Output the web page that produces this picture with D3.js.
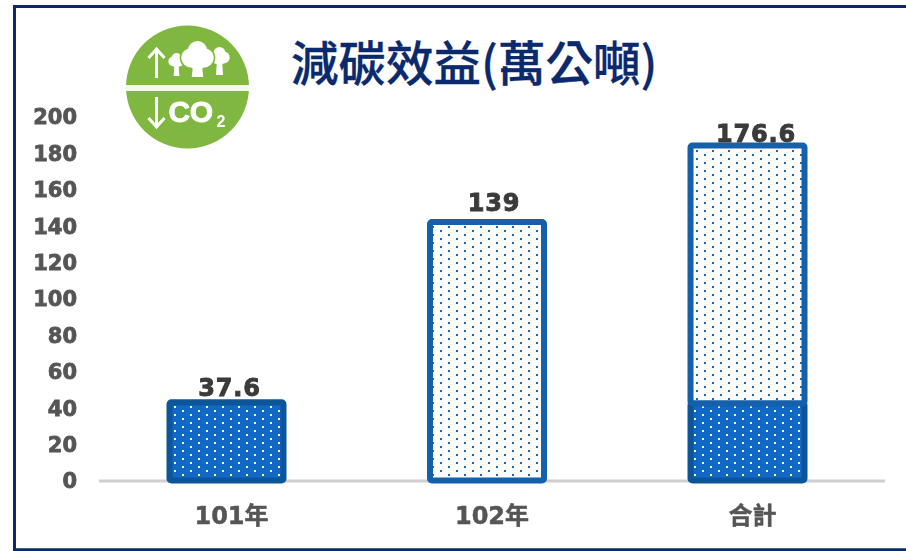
<!DOCTYPE html>
<html lang="zh-Hant">
<head>
<meta charset="utf-8">
<title>減碳效益</title>
<style>
html, body { margin: 0; padding: 0; background: #fff; }
svg { display: block; }
.label { font-family: "DejaVu Sans", "Noto Sans CJK TC", sans-serif; font-weight: bold; }
</style>
</head>
<body>
<script src="https://d3js.org/d3.v7.min.js"></script>
<script>

var titleText = "減碳效益(萬公噸)";
var categories = ["101年", "102年", "合計"];
var tickValues = [0, 20, 40, 60, 80, 100, 120, 140, 160, 180, 200];
// drawn heights are read against the axis, they do not agree with the printed labels
var lowerValues = [43, 0, 42.5];
var upperValues = [0, 142, 141.5];
var valueLabels = ["37.6", "139", "176.6"];

var width = 906, height = 551;

var x = d3.scalePoint().domain(categories).range([226.5, 747.5]);
var y = d3.scaleLinear().domain([0, 200]).range([480.5, 116.5]);
var barWidth = 114;

// the labels sit unevenly over the bars in the original
var labelDx = [3, 7, 8.5];
var labelDy = [6.5, 11, 4];

var svg = d3.select("body").append("svg")
    .attr("width", width)
    .attr("height", height);

var defs = svg.append("defs");

function dots(id, bg, dot, ox, oy) {
  var p = defs.append("pattern")
      .attr("id", id)
      .attr("patternUnits", "userSpaceOnUse")
      .attr("x", ox).attr("y", oy)
      .attr("width", 16).attr("height", 8);
  p.append("rect").attr("width", 16).attr("height", 8).attr("fill", bg);
  p.append("rect").attr("width", 2).attr("height", 2).attr("fill", dot);
  p.append("rect").attr("x", 8).attr("y", 4).attr("width", 2).attr("height", 2).attr("fill", dot);
}
dots("dark0", "#1269c5", "#fff", 174, 406);
dots("dark2", "#1269c5", "#fff", 694, 410);
dots("light1", "#fff", "#0f6cc4", 448, 226);
dots("light2", "#fff", "#0f6cc4", 696, 150);

defs.append("filter").attr("id", "soft")
  .append("feGaussianBlur").attr("stdDeviation", 0.6);
defs.append("filter").attr("id", "logoSoft")
  .append("feGaussianBlur").attr("stdDeviation", 0.5);

// frame
svg.append("path")
    .attr("d", "M906,6.5H14.5V549.8H906")
    .attr("fill", "none")
    .attr("stroke", "#0a2a6a")
    .attr("stroke-width", 3);

// baseline
svg.append("line")
    .attr("x1", 99).attr("x2", 885)
    .attr("y1", y(0) + 0.5).attr("y2", y(0) + 0.5)
    .attr("stroke", "#cfcfcf")
    .attr("stroke-width", 3);

// y tick labels
var yAxis = d3.axisLeft(y).tickValues(tickValues).tickSize(0).tickPadding(0);
var yg = svg.append("g")
    .attr("transform", "translate(77,0.7)")
    .attr("filter", "url(#soft)")
    .call(yAxis);
yg.select(".domain").remove();
yg.selectAll("text")
    .attr("class", "label")
    .attr("font-size", 21)
    .attr("fill", "#555")
    .attr("stroke", "#555")
    .attr("stroke-width", 0.8);

// x category labels
var xAxis = d3.axisBottom(x).tickSize(0).tickPadding(0);
var xg = svg.append("g")
    .attr("transform", "translate(4.5,507)")
    .attr("filter", "url(#soft)")
    .call(xAxis);
xg.select(".domain").remove();
xg.selectAll("text")
    .attr("class", "label")
    .attr("font-size", 24)
    .attr("fill", "#555")
    .attr("stroke", "#555")
    .attr("stroke-width", 0.5);

// lower (dark) bars
svg.append("g").selectAll("rect")
    .data(categories.filter(function(d, i) { return lowerValues[i] > 0; }))
  .enter().append("rect")
    .attr("x", function(d) { return x(d) - barWidth / 2; })
    .attr("y", function(d) { return y(lowerValues[categories.indexOf(d)]); })
    .attr("width", barWidth)
    .attr("height", function(d) { return y(0) - y(lowerValues[categories.indexOf(d)]); })
    .attr("rx", 2)
    .attr("fill", function(d) { return "url(#dark" + categories.indexOf(d) + ")"; })
    .attr("stroke", "#0c5698")
    .attr("stroke-width", 6);

// upper (light) bars
svg.append("g").selectAll("rect")
    .data(categories.filter(function(d, i) { return upperValues[i] > 0; }))
  .enter().append("rect")
    .attr("x", function(d) { return x(d) - barWidth / 2; })
    .attr("y", function(d) {
      var i = categories.indexOf(d);
      return y(lowerValues[i] + upperValues[i]);
    })
    .attr("width", barWidth)
    .attr("height", function(d) { return y(0) - y(upperValues[categories.indexOf(d)]); })
    .attr("rx", 2)
    .attr("fill", function(d) { return "url(#light" + categories.indexOf(d) + ")"; })
    .attr("stroke", "#1460aa")
    .attr("stroke-width", 6);

// value labels
svg.append("g")
    .attr("filter", "url(#soft)")
  .selectAll("text")
    .data(valueLabels)
  .enter().append("text")
    .attr("class", "label")
    .attr("x", function(d, i) { return x(categories[i]) + labelDx[i]; })
    .attr("y", function(d, i) { return y(lowerValues[i] + upperValues[i]) - labelDy[i]; })
    .attr("text-anchor", "middle")
    .attr("font-size", 24)
    .attr("letter-spacing", 0.8)
    .attr("fill", "#3a3a3a")
    .attr("stroke", "#3a3a3a")
    .attr("stroke-width", 0.9)
    .text(function(d) { return d; });

// title
svg.append("text")
    .attr("x", 291)
    .attr("y", 81)
    .attr("font-family", '"Noto Sans CJK TC", sans-serif')
    .attr("font-weight", 500)
    .attr("font-size", 47.5)
    .attr("fill", "#0b2a6e")
    .attr("stroke", "#0b2a6e")
    .attr("stroke-width", 0.3)
    .text(titleText);

// logo
var logo = svg.append("g")
    .attr("transform", "translate(187.5,87)")
    .attr("filter", "url(#logoSoft)");
logo.append("circle").attr("r", 61.5).attr("fill", "#80b73f");
logo.append("rect")
    .attr("x", -62).attr("y", -2)
    .attr("width", 124).attr("height", 6)
    .attr("fill", "#f4f9ea");

logo.append("path")
    .attr("d", "M-31,-9V-38M-39,-29L-31,-38L-23,-29")
    .attr("fill", "none")
    .attr("stroke", "#fff")
    .attr("stroke-width", 3);
logo.append("path")
    .attr("d", "M-31,10V40M-39,31L-31,40L-23,31")
    .attr("fill", "none")
    .attr("stroke", "#fff")
    .attr("stroke-width", 3);

// trees: crown circles plus a trunk, green halo first so they read as separate
function tree(cx, top, bottom, w) {
  var r = w / 2;
  var crown = [
    [cx, top + r * 0.6, r * 0.6],
    [cx - r * 0.42, top + r * 1.05, r * 0.6],
    [cx + r * 0.42, top + r * 1.05, r * 0.6],
    [cx, top + r * 1.15, r * 0.65]
  ];
  var trunk = "M" + (cx - r * 0.22) + "," + (top + r) +
      "L" + (cx - r * 0.36) + "," + bottom +
      "H" + (cx + r * 0.36) +
      "L" + (cx + r * 0.22) + "," + (top + r) + "Z";
  var g = logo.append("g");
  g.selectAll("circle.halo").data(crown).enter().append("circle")
      .attr("class", "halo")
      .attr("cx", function(c) { return c[0]; })
      .attr("cy", function(c) { return c[1]; })
      .attr("r", function(c) { return c[2] + 1.5; })
      .attr("fill", "#80b73f");
  g.selectAll("circle.leaf").data(crown).enter().append("circle")
      .attr("class", "leaf")
      .attr("cx", function(c) { return c[0]; })
      .attr("cy", function(c) { return c[1]; })
      .attr("r", function(c) { return c[2]; })
      .attr("fill", "#fff");
  g.append("path").attr("d", trunk).attr("fill", "#fff");
}
tree(-11, -34, -11, 16);
tree(32, -40, -12, 20);
tree(10, -46, -10, 32);

logo.append("text")
    .attr("x", -19)
    .attr("y", 35)
    .attr("font-family", '"Liberation Sans", sans-serif')
    .attr("font-weight", "bold")
    .attr("font-size", 30)
    .attr("letter-spacing", -0.5)
    .attr("fill", "#fff")
    .attr("stroke", "#fff")
    .attr("stroke-width", 0.8)
    .text("CO");
logo.append("text")
    .attr("x", 29)
    .attr("y", 40)
    .attr("font-family", '"Liberation Sans", sans-serif')
    .attr("font-weight", "bold")
    .attr("font-size", 16)
    .attr("fill", "#fff")
    .text("2");

</script>
</body>
</html>
